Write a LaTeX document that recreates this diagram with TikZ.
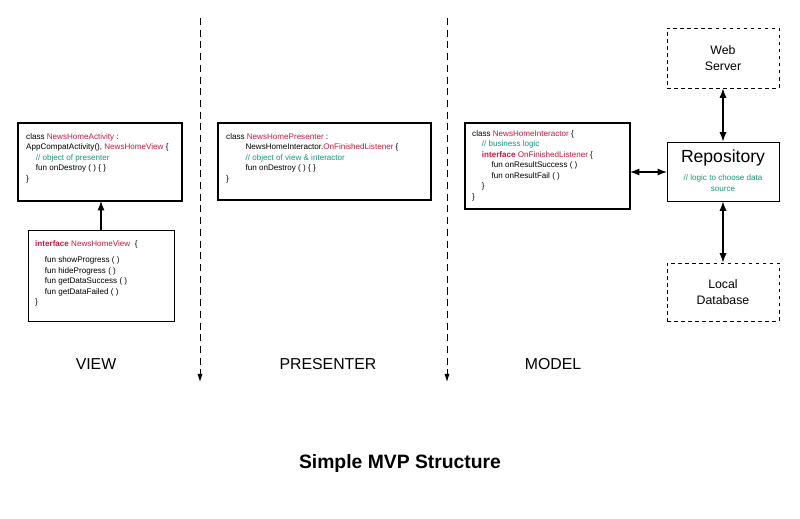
\documentclass[tikz,border=0pt]{standalone}
\usepackage{fontspec}
\setmainfont{Liberation Sans}
\usetikzlibrary{arrows.meta,positioning}
\definecolor{kwred}{RGB}{200,25,60}
\definecolor{cmtgreen}{RGB}{25,150,120}
\newcommand{\kw}[1]{\textcolor{kwred}{#1}}
\newcommand{\cmt}[1]{\textcolor{cmtgreen}{#1}}
\newcommand{\ind}{\hspace*{1.2em}}
\begin{document}
\begin{tikzpicture}[x=0.03cm,y=-0.03cm,
		code/.style={draw=black,line width=1.6pt,inner sep=0pt},
		plain/.style={draw=black,line width=0.7pt,inner sep=0pt},
		dashbox/.style={draw=black,line width=0.7pt,dashed,inner sep=0pt},
		txt/.style={anchor=north west,align=left,font=\fontsize{6.9}{9}\selectfont,inner sep=0pt},
		big/.style={font=\fontsize{13.5}{15}\selectfont},
		link/.style={line width=1pt,-{Latex[length=8pt,width=6pt]}},
		both/.style={line width=1pt,{Latex[length=8pt,width=6pt]}-{Latex[length=8pt,width=6pt]}},
		split/.style={line width=0.7pt,dash pattern=on 6pt off 4pt,-{Latex[length=7pt,width=4.5pt]}}
	]
	\useasboundingbox (0,0) rectangle (800,518);
	
	% view
	\draw[code] (18,123) rectangle (182,201);
	\coordinate (activity) at (101,201);
	\node[txt] (activitytxt) at (26,133) {class \kw{NewsHomeActivity} :\\
		AppCompatActivity(), \kw{NewsHomeView} \{\\
		\ind\cmt{// object of presenter}\\
		\ind fun onDestroy ( ) \{ \}\\
		\}};
	\draw[plain] (28,230) rectangle (174,321);
	\coordinate (viewif) at (101,230);
	\node[txt] (viewtxt) at (35,240) {\kw{\textbf{interface} NewsHomeView} \ \{\\[5pt]
		\ind fun showProgress ( )\\
		\ind fun hideProgress ( )\\
		\ind fun getDataSuccess ( )\\
		\ind fun getDataFailed ( )\\
		\}};
	\draw[link] (viewif) -- (activity);
	
	% presenter
	\draw[code] (218,123) rectangle (431,200);
	\node[txt] (presentertxt) at (226,133) {class \kw{NewsHomePresenter} :\\
		\hspace*{2.4em}NewsHomeInteractor.\kw{OnFinishedListener} \{\\
		\hspace*{2.4em}\cmt{// object of view \& interactor}\\
		\hspace*{2.4em}fun onDestroy ( ) \{ \}\\
		\}};
	
	% model
	\draw[code] (465,123) rectangle (630,209);
	\coordinate (interactor) at (630,172);
	\coordinate (repoin) at (667,172);
	\node[txt] (interactortxt) at (472,130) {class \kw{NewsHomeInteractor} \{\\
		\ind\cmt{// business logic}\\
		\ind\kw{\textbf{interface} OnFinishedListener} \{\\
		\ind\ind fun onResultSuccess ( )\\
		\ind\ind fun onResultFail ( )\\
		\ind\}\\
		\}};
	\node[plain,minimum width=112*0.03cm,minimum height=59*0.03cm] (repo) at (723,171.5) {};
	\node[font=\fontsize{15}{17}\selectfont] (repotxt) at (723,158) {Repository};
	\node[align=center,font=\fontsize{6.9}{9}\selectfont,text=cmtgreen] (repocmt) at (723,183) {// logic to choose data\\source};
	\node[dashbox,minimum width=112*0.03cm,minimum height=60*0.03cm,align=center,font=\fontsize{10.5}{14}\selectfont] (web) at (723,58) {Web\\Server};
	\node[dashbox,minimum width=112*0.03cm,minimum height=58*0.03cm,align=center,font=\fontsize{10.5}{14}\selectfont] (local) at (723,292) {Local\\Database};
	\draw[both] (interactor) -- (repoin);
	\draw[both] (web) -- (repo);
	\draw[both] (repo) -- (local);
	
	% separators
	\coordinate (sepa) at (200,18);
	\coordinate (sepaend) at (200,382);
	\coordinate (sepb) at (447,18);
	\coordinate (sepbend) at (447,382);
	\draw[split] (sepa) -- (sepaend);
	\draw[split] (sepb) -- (sepbend);
	
	% layer names
	\node[big] (viewlbl) at (96,364) {VIEW};
	\node[big] (presenterlbl) at (328,364) {PRESENTER};
	\node[big] (modellbl) at (553,364) {MODEL};
	\node[font=\fontsize{16.5}{19}\selectfont\bfseries] (title) at (400,463) {Simple MVP Structure};
\end{tikzpicture}
\end{document}
